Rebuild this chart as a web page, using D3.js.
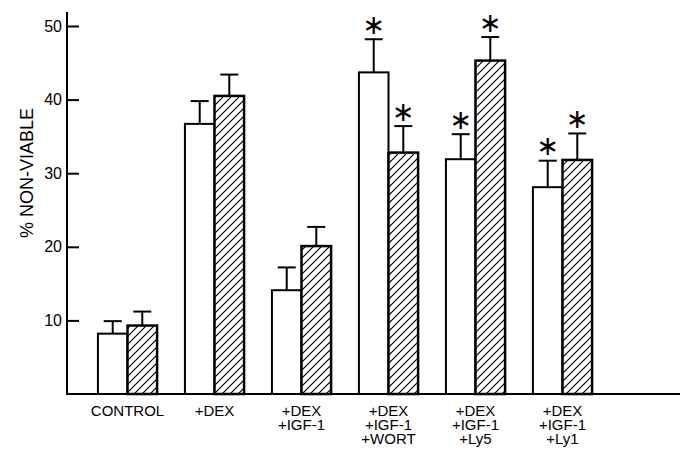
<!DOCTYPE html>
<html>
<head>
<meta charset="utf-8">
<script src="https://cdn.jsdelivr.net/npm/d3@7"></script>
<style>
  html, body { margin: 0; padding: 0; background: #fff; }
  svg { display: block; }
  text { font-family: "Liberation Sans", Arial, sans-serif; fill: #000; }
</style>
</head>
<body>
<script>
// ---- data ----
const categories = ["CONTROL", "+DEX", "+DEX\n+IGF-1", "+DEX\n+IGF-1\n+WORT", "+DEX\n+IGF-1\n+Ly5", "+DEX\n+IGF-1\n+Ly1"];
const openValues = [8.2, 36.7, 14.1, 43.7, 31.9, 28.1];
const openErrors = [1.7, 3.1, 3.1, 4.5, 3.4, 3.6];
const hatchedValues = [9.3, 40.5, 20.1, 32.8, 45.3, 31.8];
const hatchedErrors = [1.9, 2.9, 2.6, 3.6, 3.2, 3.6];
const openSignificant = [false, false, false, true, true, true];
const hatchedSignificant = [false, false, false, true, true, true];
const yTicks = [10, 20, 30, 40, 50];
const yTitle = "% NON-VIABLE";
const seriesKeys = ["open", "hatched"];

// ---- layout ----
const W = 686, H = 452;
const svg = d3.select("body").append("svg").attr("width", W).attr("height", H);

const defs = svg.append("defs");
const pat = defs.append("pattern")
  .attr("id", "hatch").attr("patternUnits", "userSpaceOnUse")
  .attr("width", 8).attr("height", 8);
pat.append("rect").attr("width", 8).attr("height", 8).attr("fill", "#fff");
pat.append("path").attr("d", "M-2,2 L2,-2 M0,8 L8,0 M6,10 L10,6")
  .attr("stroke", "#000").attr("stroke-width", 1.2);

const y = d3.scaleLinear().domain([0, 50]).range([394, 26]);
const x = d3.scaleBand().domain(categories).range([84, 606]).paddingInner(0.32).paddingOuter(0.16);
const xs = d3.scaleBand().domain(seriesKeys).range([0, x.bandwidth()]).padding(0);

const data = [];
categories.forEach((c, i) => {
  data.push({cat: c, key: "open", v: openValues[i], e: openErrors[i], sig: openSignificant[i]});
  data.push({cat: c, key: "hatched", v: hatchedValues[i], e: hatchedErrors[i], sig: hatchedSignificant[i]});
});

const g = svg.append("g");

// error bars
const eb = g.selectAll("g.err").data(data).join("g").attr("class", "err");
eb.append("line")
  .attr("x1", d => x(d.cat) + xs(d.key) + xs.bandwidth() / 2)
  .attr("x2", d => x(d.cat) + xs(d.key) + xs.bandwidth() / 2)
  .attr("y1", d => y(d.v)).attr("y2", d => y(d.v + d.e))
  .attr("stroke", "#000").attr("stroke-width", 2);
eb.append("line")
  .attr("x1", d => x(d.cat) + xs(d.key) + xs.bandwidth() / 2 - 9)
  .attr("x2", d => x(d.cat) + xs(d.key) + xs.bandwidth() / 2 + 9)
  .attr("y1", d => y(d.v + d.e)).attr("y2", d => y(d.v + d.e))
  .attr("stroke", "#000").attr("stroke-width", 2);

// bars
g.selectAll("rect.bar").data(data).join("rect").attr("class", "bar")
  .attr("x", d => x(d.cat) + xs(d.key))
  .attr("width", xs.bandwidth())
  .attr("y", d => y(d.v))
  .attr("height", d => y(0) - y(d.v))
  .attr("fill", d => d.key === "open" ? "#fff" : "url(#hatch)")
  .attr("stroke", "#000")
  .attr("stroke-width", d => d.key === "open" ? 2 : 2.5);

// asterisks
g.selectAll("text.sig").data(data.filter(d => d.sig)).join("text").attr("class", "sig")
  .attr("x", d => x(d.cat) + xs(d.key) + xs.bandwidth() / 2)
  .attr("y", d => y(d.v + d.e) - 15)
  .attr("text-anchor", "middle")
  .attr("dominant-baseline", "central")
  .style("font-family", "'DejaVu Sans'")
  .style("font-size", "27px")
  .text("\u2217");

// axes
const yAxis = d3.axisLeft(y).tickValues(yTicks).tickSize(-12).tickPadding(5).tickFormat(d3.format("d"));
const ya = svg.append("g").attr("transform", "translate(67,0)").call(yAxis);
ya.select(".domain").remove();
ya.selectAll(".tick line").attr("stroke", "#000").attr("stroke-width", 2);
ya.selectAll(".tick text").style("font-size", "16px").style("font-family", "'Liberation Sans', Arial, sans-serif");
svg.append("line").attr("x1", 67).attr("x2", 67).attr("y1", 12).attr("y2", y(0) + 1)
  .attr("stroke", "#000").attr("stroke-width", 2);
svg.append("line").attr("x1", 66).attr("x2", 680).attr("y1", y(0)).attr("y2", y(0))
  .attr("stroke", "#000").attr("stroke-width", 2);

// category labels
const lbl = svg.selectAll("text.cat").data(categories).join("text").attr("class", "cat")
  .attr("text-anchor", "middle")
  .style("font-size", "15px");
lbl.each(function(c) {
  const t = d3.select(this);
  c.split("\n").forEach((line, i) => {
    t.append("tspan").attr("x", x(c) + x.bandwidth() / 2).attr("y", 416 + i * 14).text(line);
  });
});

// y title
svg.append("text")
  .attr("transform", "translate(33," + ((y(0) + y(50)) / 2 - 37) + ") rotate(-90)")
  .attr("text-anchor", "middle")
  .style("font-size", "18px")
  .text(yTitle);
</script>
</body>
</html>
